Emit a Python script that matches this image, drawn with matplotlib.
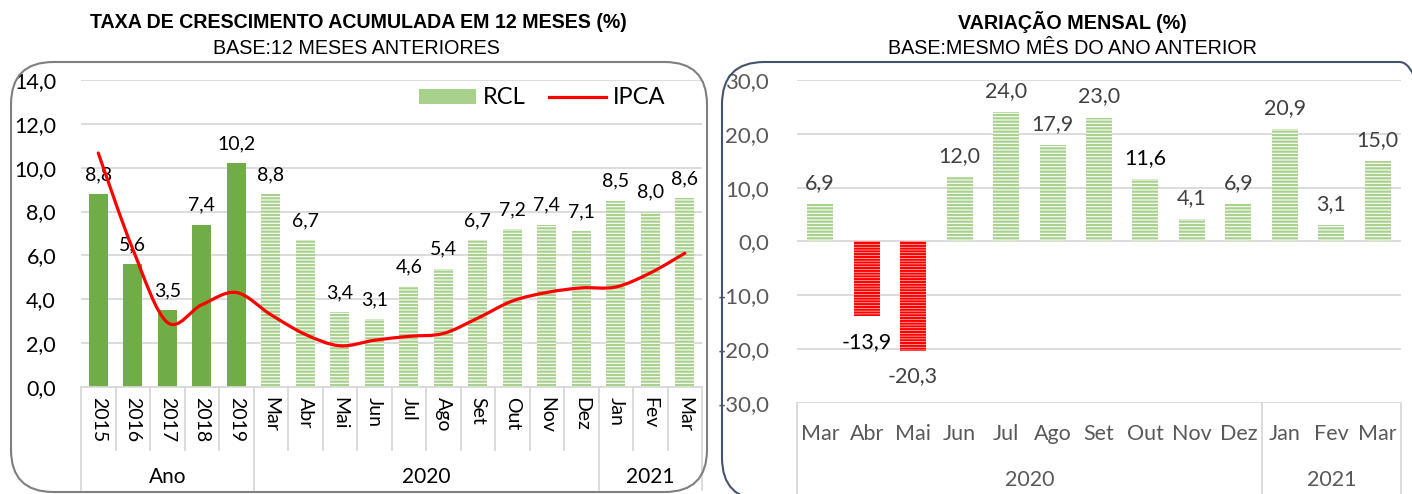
import numpy as np
import matplotlib
matplotlib.use("Agg")
import matplotlib.pyplot as plt
from matplotlib.path import Path
from matplotlib.patches import PathPatch, FancyBboxPatch, Patch
from matplotlib.lines import Line2D
import matplotlib.transforms as mtrans

plt.rcParams['font.family'] = ['Lato', 'DejaVu Sans']
plt.rcParams['hatch.linewidth'] = 1.6

# ---- dados: taxa acumulada 12 meses ----
cat_esq = ['2015', '2016', '2017', '2018', '2019', 'Mar', 'Abr', 'Mai', 'Jun',
           'Jul', 'Ago', 'Set', 'Out', 'Nov', 'Dez', 'Jan', 'Fev', 'Mar']
rcl = [8.8, 5.6, 3.5, 7.4, 10.2, 8.8, 6.7, 3.4, 3.1, 4.6, 5.4, 6.7, 7.2, 7.4,
       7.1, 8.5, 8.0, 8.6]
ipca = [10.67, 6.29, 2.95, 3.75, 4.31, 3.30, 2.40, 1.88, 2.13, 2.31, 2.44,
        3.14, 3.92, 4.31, 4.52, 4.56, 5.20, 6.10]
grupos_esq = ['Ano', '2020', '2021']
grupos_esq_lim = [(-0.5, 4.5), (4.5, 14.5), (14.5, 17.5)]

# ---- dados: variacao mensal ----
cat_dir = ['Mar', 'Abr', 'Mai', 'Jun', 'Jul', 'Ago', 'Set', 'Out', 'Nov',
           'Dez', 'Jan', 'Fev', 'Mar']
var_mensal = [6.9, -13.9, -20.3, 12.0, 24.0, 17.9, 23.0, 11.6, 4.1, 6.9, 20.9,
              3.1, 15.0]
grupos_dir = ['2020', '2021']
grupos_dir_lim = [(-0.5, 9.5), (9.5, 12.5)]

verde = '#70AD47'
verde_claro = '#A9D18E'
cinza_grade = '#D9D9D9'
vermelho = '#FF0000'

def fmt(v):
    return f"{v:.1f}".replace('.', ',')

W, H = 1412, 494
fig = plt.figure(figsize=(W / 100, H / 100), dpi=100)

# molduras arredondadas
fig.patches.append(FancyBboxPatch((11 / W, 1 - 492 / H), 696 / W, 430 / H,
                                  boxstyle="round,pad=0,rounding_size=0.03",
                                  transform=fig.transFigure, fill=False,
                                  ec='#7F7F7F', lw=1.5, mutation_aspect=W / H))
fig.patches.append(FancyBboxPatch((722 / W, 1 - 500 / H), 720 / W, 438 / H,
                                  boxstyle="round,pad=0,rounding_size=0.03",
                                  transform=fig.transFigure, fill=False,
                                  ec='#44546A', lw=1.5, mutation_aspect=W / H))

narrow = ['Liberation Sans Narrow', 'Liberation Sans', 'DejaVu Sans']
fig.text(358 / W, 1 - 22 / H, 'TAXA DE CRESCIMENTO ACUMULADA EM 12 MESES (%)',
         ha='center', va='center', fontsize=14.1, fontweight='bold', family=narrow)
fig.text(356 / W, 1 - 49 / H, 'BASE:12 MESES ANTERIORES', ha='center',
         va='center', fontsize=14.2, family=narrow)
fig.text(1072 / W, 1 - 22 / H, 'VARIAÇÃO MENSAL (%)', ha='center',
         va='center', fontsize=14.2, fontweight='bold', family=narrow)
fig.text(1072 / W, 1 - 49 / H, 'BASE:MESMO MÊS DO ANO ANTERIOR', ha='center',
         va='center', fontsize=14.2, family=narrow)

# ================= grafico esquerdo =================
ax = fig.add_axes([81 / W, 1 - 387 / H, 621 / W, 307 / H])
x = np.arange(len(cat_esq))
for i, v in enumerate(rcl):
    if i < 5:
        ax.bar(i, v, width=0.55, color=verde, zorder=2)
    else:
        ax.bar(i, v, width=0.55, facecolor='white', edgecolor=verde_claro,
               hatch='-----', lw=0, zorder=2)
    ax.annotate(fmt(v), (i, v), xytext=(0, 8), textcoords='offset points',
                ha='center', va='bottom', fontsize=14, color='black')

# linha suavizada (estilo Excel) do IPCA
pts = np.column_stack([x, ipca])
verts = [pts[0]]
codes = [Path.MOVETO]
for i in range(len(pts) - 1):
    p0 = pts[i - 1] if i > 0 else pts[i]
    p3 = pts[i + 2] if i + 2 < len(pts) else pts[i + 1]
    c1 = pts[i] + (pts[i + 1] - p0) / 6
    c2 = pts[i + 1] - (p3 - pts[i]) / 6
    verts += [c1, c2, pts[i + 1]]
    codes += [Path.CURVE4] * 3
ax.add_patch(PathPatch(Path(verts, codes), fill=False, ec=vermelho, lw=2.3,
                       zorder=3, capstyle='round'))

ax.set_xlim(-0.5, len(cat_esq) - 0.5)
ax.set_ylim(0, 14)
ax.set_yticks(np.arange(0, 15, 2))
ax.set_yticklabels([fmt(t) for t in np.arange(0, 15, 2)], fontsize=15.5)
ax.yaxis.grid(True, color=cinza_grade, lw=1.3)
ax.set_axisbelow(True)
for s in ['top', 'right', 'left']:
    ax.spines[s].set_visible(False)
ax.spines['bottom'].set_color(cinza_grade)
ax.spines['bottom'].set_linewidth(1.3)
ax.tick_params(length=0)
ax.tick_params(axis='y', pad=18)
ax.set_xticks(x)
ax.set_xticklabels(cat_esq, rotation=-90, fontsize=14, va='top')
ax.tick_params(axis='x', pad=7)

tr = mtrans.blended_transform_factory(ax.transData, ax.transAxes)
bordas = [g[0] for g in grupos_esq_lim] + [grupos_esq_lim[-1][1]]
for b in np.arange(-0.5, len(cat_esq), 1.0):
    fim = -0.335 if b in bordas else -0.205
    ax.add_line(Line2D([b, b], [0, fim], transform=tr, color=cinza_grade,
                       lw=1.3, clip_on=False))
for nome, (a, b) in zip(grupos_esq, grupos_esq_lim):
    ax.text((a + b) / 2, -0.293, nome, transform=tr, ha='center', va='center',
            fontsize=15)

ax.legend(handles=[Patch(facecolor=verde_claro, label='RCL'),
                   Line2D([], [], color=vermelho, lw=2.3, label='IPCA')],
          loc='upper right', bbox_to_anchor=(0.975, 1.045), ncol=2,
          frameon=False, fontsize=17, handlelength=2.4, handleheight=0.6,
          columnspacing=1.0, handletextpad=0.3)

# ================= grafico direito =================
ax2 = fig.add_axes([797 / W, 1 - 403 / H, 604 / W, 323 / H])
x2 = np.arange(len(cat_dir))
for i, v in enumerate(var_mensal):
    if v >= 0:
        ax2.bar(i, v, width=0.56, facecolor='white', edgecolor=verde_claro,
                hatch='-----', lw=0, zorder=2)
        ax2.annotate(fmt(v), (i, v), xytext=(0, 8), textcoords='offset points',
                     ha='center', va='bottom', fontsize=15.5,
                     color='black' if i == 7 else '#404040')
    else:
        ax2.bar(i, v, width=0.56, facecolor='white', edgecolor=vermelho,
                hatch='------', lw=0, zorder=2)
        ax2.annotate(fmt(v), (i, v), xytext=(0, -11), textcoords='offset points',
                     ha='center', va='top', fontsize=15.5,
                     color='black' if i == 1 else '#404040')

ax2.set_xlim(-0.5, len(cat_dir) - 0.5)
ax2.set_ylim(-30, 30)
ax2.set_yticks(np.arange(-30, 31, 10))
ax2.set_yticklabels([fmt(t) for t in np.arange(-30, 31, 10)], fontsize=16,
                    color='#595959')
ax2.yaxis.grid(True, color=cinza_grade, lw=1.3)
ax2.set_axisbelow(True)
for s in ax2.spines.values():
    s.set_visible(False)
ax2.tick_params(length=0)
ax2.tick_params(axis='y', pad=20)
ax2.set_xticks(x2)
ax2.set_xticklabels(cat_dir, fontsize=15.5, color='#595959')
ax2.tick_params(axis='x', pad=15)

tr2 = mtrans.blended_transform_factory(ax2.transData, ax2.transAxes)
for b in [-0.5, 9.5, 12.5]:
    ax2.add_line(Line2D([b, b], [0, -0.3], transform=tr2, color=cinza_grade,
                        lw=1.3, clip_on=False))
for nome, (a, b) in zip(grupos_dir, grupos_dir_lim):
    ax2.text((a + b) / 2, -0.238, nome, transform=tr2, ha='center',
             va='center', fontsize=15.5, color='#595959')

fig.savefig('out.png', dpi=100)
